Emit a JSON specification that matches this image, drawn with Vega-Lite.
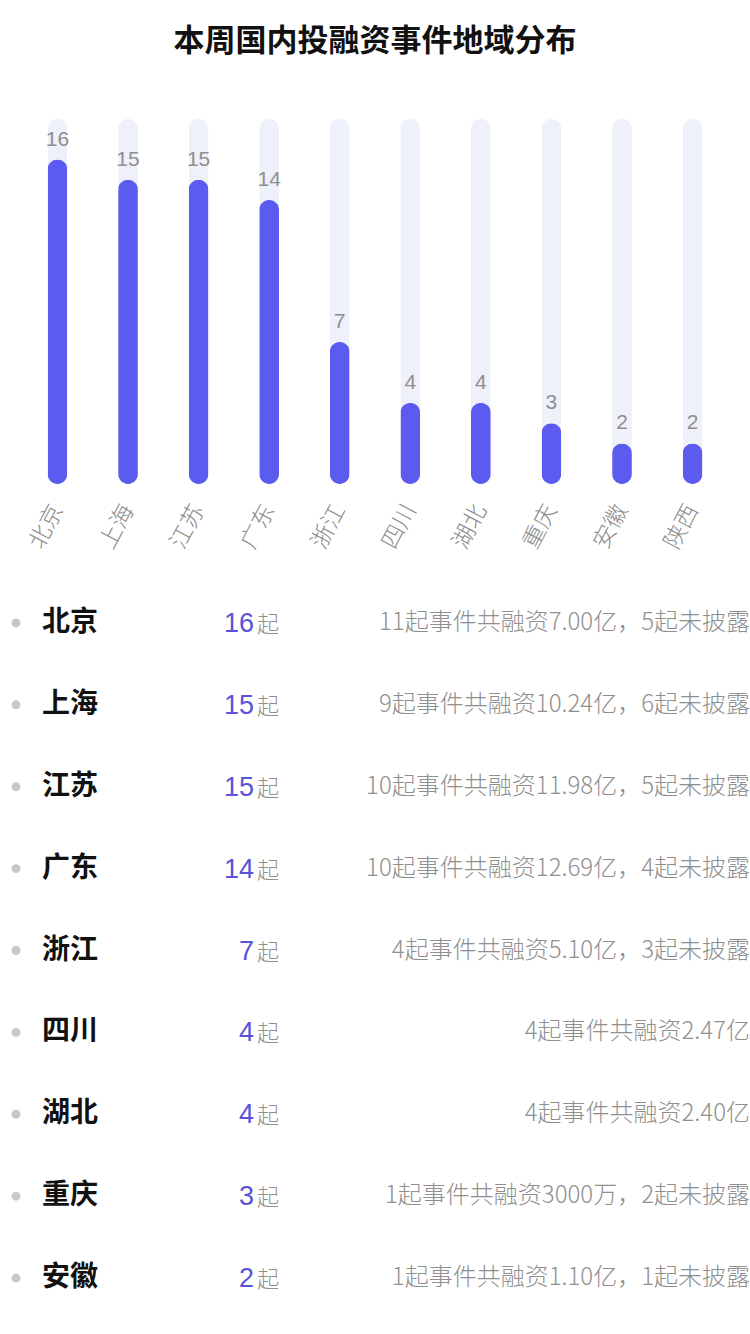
{
  "$schema": "https://vega.github.io/schema/vega-lite/v6.json",
  "background": "white",
  "padding": {"top": 26, "left": 0, "right": 0, "bottom": 0},
  "title": {"text": "本周国内投融资事件地域分布", "font": "Noto Sans CJK SC", "fontSize": 31, "fontWeight": "bold", "color": "#111111", "anchor": "middle", "offset": 61},
  "config": {"view": {"stroke": null}, "font": "Noto Sans CJK SC"},
  "spacing": 29,
  "datasets": {
    "bars": [
      {"region": "北京", "count": 16, "max": 18},
      {"region": "上海", "count": 15, "max": 18},
      {"region": "江苏", "count": 15, "max": 18},
      {"region": "广东", "count": 14, "max": 18},
      {"region": "浙江", "count": 7, "max": 18},
      {"region": "四川", "count": 4, "max": 18},
      {"region": "湖北", "count": 4, "max": 18},
      {"region": "重庆", "count": 3, "max": 18},
      {"region": "安徽", "count": 2, "max": 18},
      {"region": "陕西", "count": 2, "max": 18}
    ],
    "list": [
      {"region": "北京", "count": 16, "unit": "起", "desc": "11起事件共融资7.00亿，5起未披露"},
      {"region": "上海", "count": 15, "unit": "起", "desc": "9起事件共融资10.24亿，6起未披露"},
      {"region": "江苏", "count": 15, "unit": "起", "desc": "10起事件共融资11.98亿，5起未披露"},
      {"region": "广东", "count": 14, "unit": "起", "desc": "10起事件共融资12.69亿，4起未披露"},
      {"region": "浙江", "count": 7, "unit": "起", "desc": "4起事件共融资5.10亿，3起未披露"},
      {"region": "四川", "count": 4, "unit": "起", "desc": "4起事件共融资2.47亿"},
      {"region": "湖北", "count": 4, "unit": "起", "desc": "4起事件共融资2.40亿"},
      {"region": "重庆", "count": 3, "unit": "起", "desc": "1起事件共融资3000万，2起未披露"},
      {"region": "安徽", "count": 2, "unit": "起", "desc": "1起事件共融资1.10亿，1起未披露"}
    ]
  },
  "vconcat": [
    {
      "width": 750,
      "height": 365,
      "data": {"name": "bars"},
      "encoding": {
        "x": {"field": "region", "type": "nominal", "sort": null,
          "scale": {"paddingInner": 0.72, "paddingOuter": 0.674},
          "axis": {"title": null, "domain": false, "ticks": false, "labelAngle": -62, "labelAlign": "right", "labelBaseline": "middle", "labelFontSize": 23, "labelColor": "#8a8a8a", "labelPadding": 22, "labelFont": "Noto Sans CJK SC", "labelFontWeight": 300}}
      },
      "layer": [
        {
          "mark": {"type": "bar", "color": "#eef0fa", "cornerRadius": 10},
          "encoding": {"y": {"field": "max", "type": "quantitative", "scale": {"domain": [0, 18]}, "axis": null}}
        },
        {
          "mark": {"type": "bar", "color": "#5b5bf0", "cornerRadius": 10},
          "encoding": {"y": {"field": "count", "type": "quantitative"}}
        },
        {
          "mark": {"type": "text", "baseline": "bottom", "dy": -10, "fontSize": 21, "color": "#8f8f8f", "font": "Liberation Sans"},
          "encoding": {"y": {"field": "count", "type": "quantitative"}, "text": {"field": "count"}}
        }
      ]
    },
    {
      "width": 750,
      "height": 737,
      "data": {"name": "list"},
      "encoding": {
        "y": {"field": "region", "type": "nominal", "sort": null, "scale": {"paddingInner": 0, "paddingOuter": 0}, "axis": null}
      },
      "layer": [
        {
          "mark": {"type": "circle", "size": 80, "color": "#c8c8c8", "opacity": 1},
          "encoding": {"x": {"datum": 16, "type": "quantitative", "scale": {"domain": [0, 750], "nice": false, "zero": false}, "axis": null}}
        },
        {
          "mark": {"type": "text", "align": "left", "baseline": "middle", "fontSize": 28, "fontWeight": "bold", "color": "#111111"},
          "encoding": {"x": {"datum": 42, "type": "quantitative"}, "text": {"field": "region"}}
        },
        {
          "mark": {"type": "text", "align": "right", "baseline": "middle", "fontSize": 27, "color": "#5a52d8", "font": "Liberation Sans", "dy": 1},
          "encoding": {"x": {"datum": 254, "type": "quantitative"}, "text": {"field": "count"}}
        },
        {
          "mark": {"type": "text", "align": "left", "baseline": "middle", "fontSize": 22, "color": "#8f8f8f", "dy": 2, "fontWeight": 300},
          "encoding": {"x": {"datum": 257, "type": "quantitative"}, "text": {"field": "unit"}}
        },
        {
          "mark": {"type": "text", "align": "right", "baseline": "middle", "fontSize": 24, "color": "#8f8f8f", "fontWeight": 300},
          "encoding": {"x": {"datum": 750, "type": "quantitative"}, "text": {"field": "desc"}}
        }
      ]
    }
  ]
}
